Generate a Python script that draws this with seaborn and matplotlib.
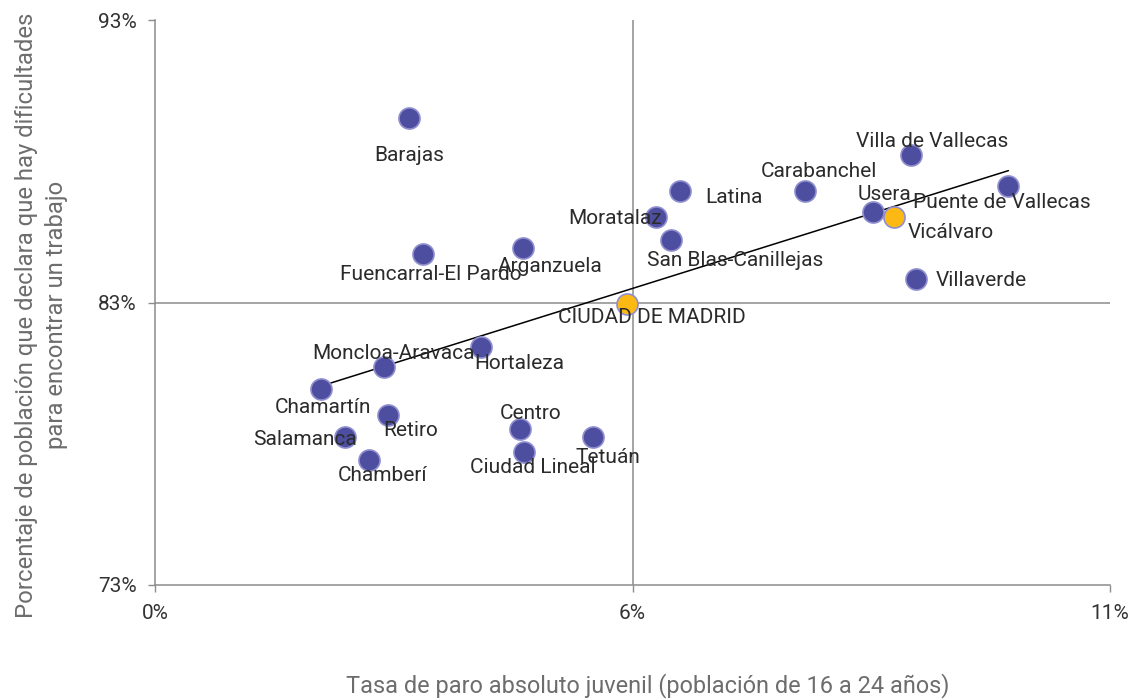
import matplotlib
matplotlib.use("Agg")
import matplotlib.pyplot as plt
import numpy as np
import pandas as pd
import seaborn as sns

# district data: youth unemployment (%) vs share reporting difficulty finding a job (%)
districts = [
    "Barajas", "Villa de Vallecas", "Puente de Vallecas", "Carabanchel", "Latina",
    "Usera", "Vicálvaro", "Moratalaz", "San Blas-Canillejas", "Arganzuela",
    "Fuencarral-El Pardo", "Villaverde", "Hortaleza", "Moncloa-Aravaca", "Chamartín",
    "Retiro", "Centro", "Salamanca", "Tetuán", "Ciudad Lineal", "Chamberí",
]
paro = [2.93, 8.71, 9.83, 7.49, 6.05, 8.27, 8.51, 5.77, 5.94, 4.24,
        3.09, 8.77, 3.76, 2.64, 1.91, 2.68, 4.20, 2.19, 5.05, 4.25, 2.47]
dificultad = [89.53, 88.22, 87.12, 86.95, 86.95, 86.20, 86.03, 86.03, 85.21, 84.93,
              84.72, 83.83, 81.42, 80.72, 79.94, 79.02, 78.52, 78.24, 78.24, 77.71, 77.42]
madrid_paro = 5.44
madrid_dif = 82.95

xticks = [0, 5.5, 11]
xtick_labels = ["0%", "6%", "11%"]
yticks = [73, 83, 93]
ytick_labels = ["73%", "83%", "93%"]

df = pd.DataFrame({"distrito": districts, "paro": paro, "dif": dificultad})
df["highlight"] = df["distrito"] == "Vicálvaro"

# label offsets in points (dx, dy, ha)
label_pos = {
    "Barajas": (0, -27, "center"),
    "Villa de Vallecas": (-40, 10, "left"),
    "Puente de Vallecas": (-69, -12, "left"),
    "Carabanchel": (-32, 14, "left"),
    "Latina": (18, -5, "left"),
    "Usera": (-11, 13, "left"),
    "Vicálvaro": (10, -11, "left"),
    "Moratalaz": (-63, -1, "left"),
    "San Blas-Canillejas": (-17, -15, "left"),
    "Arganzuela": (-18, -13, "left"),
    "Fuencarral-El Pardo": (-60, -15, "left"),
    "Villaverde": (14, -1, "left"),
    "Hortaleza": (-5, -11.5, "left"),
    "Moncloa-Aravaca": (-52, 10, "left"),
    "Chamartín": (-33, -13, "left"),
    "Retiro": (-3, -11.5, "left"),
    "Centro": (-14, 11.5, "left"),
    "Salamanca": (-66, -1.5, "left"),
    "Tetuán": (-13, -14.5, "left"),
    "Ciudad Lineal": (-39, -11, "left"),
    "Chamberí": (-23, -11, "left"),
}

sns.set_theme(style="white")
plt.rcParams["font.family"] = ["Roboto", "DejaVu Sans"]

fig = plt.figure(figsize=(11.35, 7.0), dpi=100)
ax = fig.add_axes([155 / 1135, 1 - 585 / 700, 955 / 1135, 565 / 700])

# quadrant lines at the city average
ax.axvline(5.5, color="#8c8c8c", lw=1.1, zorder=1)
ax.axhline(83, color="#8c8c8c", lw=1.1, zorder=1)

sns.regplot(data=df, x="paro", y="dif", scatter=False, ci=None, truncate=True,
            line_kws={"color": "black", "lw": 1.1}, ax=ax)

blue = "#4e4ea0"
yellow = "#fdb913"
sns.scatterplot(data=df[~df["highlight"]], x="paro", y="dif", color=blue, s=230,
                edgecolor="#8f8fd0", linewidth=1.2, zorder=3, ax=ax, legend=False)
sns.scatterplot(data=df[df["highlight"]], x="paro", y="dif", color=yellow, s=230,
                edgecolor="#8f8fd0", linewidth=1.2, zorder=3, ax=ax, legend=False)
ax.scatter([madrid_paro], [madrid_dif], color=yellow, s=230, edgecolor="#8f8fd0",
           linewidth=1.2, zorder=3)

for name, x, y in zip(districts, paro, dificultad):
    dx, dy, ha = label_pos[name]
    ax.annotate(name, (x, y), xytext=(dx, dy), textcoords="offset points",
                ha=ha, va="center", fontsize=15, color="#2b2b2b", zorder=4)
ax.annotate("CIUDAD DE MADRID", (madrid_paro, madrid_dif), xytext=(-50, -10),
            textcoords="offset points", ha="left", va="center", fontsize=15,
            color="#2b2b2b", zorder=4)

ax.set_xlim(0, 11)
ax.set_ylim(73, 93)
ax.set_xticks(xticks)
ax.set_xticklabels(xtick_labels)
ax.set_yticks(yticks)
ax.set_yticklabels(ytick_labels)
ax.tick_params(axis="both", labelsize=15, labelcolor="#333333", color="#8c8c8c",
               length=5, width=1, direction="out", left=True, bottom=True)
ax.tick_params(axis="x", pad=9)
ax.tick_params(axis="y", pad=8)

for side in ["top", "right"]:
    ax.spines[side].set_visible(False)
for side in ["left", "bottom"]:
    ax.spines[side].set_color("#8c8c8c")
    ax.spines[side].set_linewidth(1.1)

ax.set_xlabel("Tasa de paro absoluto juvenil (población de 16 a 24 años)",
              fontsize=16.9, color="#6d6d6d", labelpad=36)
ax.xaxis.label.set_x(0.516)
ax.set_ylabel("Porcentaje de población que declara que hay dificultades\npara encontrar un trabajo",
              fontsize=17.2, color="#6d6d6d", labelpad=22, linespacing=1.35)
ax.yaxis.label.set_y(0.478)

fig.savefig("out.png", dpi=100)
